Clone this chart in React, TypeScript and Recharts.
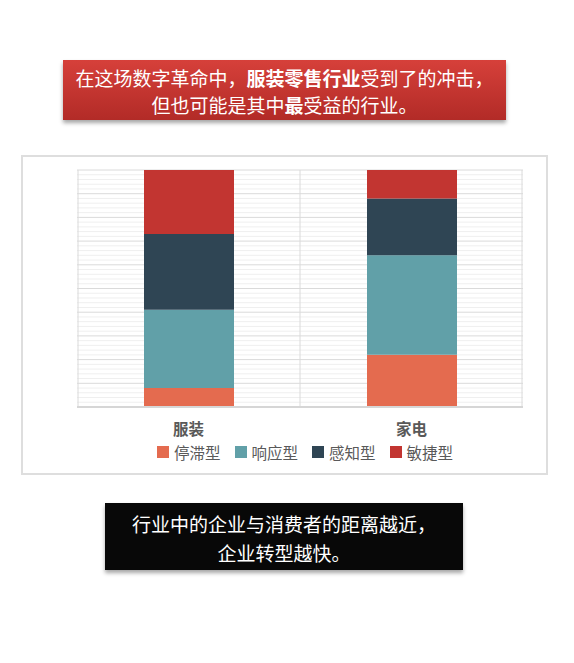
import React from 'react'
import { BarChart, Bar, XAxis, YAxis, CartesianGrid, Legend } from 'recharts'

// 100% stacked shares
const categories = ['服装', '家电']
const stagnant = [8, 22] // 停滞型
const responsive = [33, 42] // 响应型
const perceptive = [32, 24] // 感知型
const agile = [27, 12] // 敏捷型

const seriesNames = ['停滞型', '响应型', '感知型', '敏捷型']
const seriesColors = ['#E46B4F', '#61A0A8', '#2F4554', '#C23531']

const majorTicks = [0, 10, 20, 30, 40, 50, 60, 70, 80, 90, 100]
const minorTicks = [
  2, 4, 6, 8, 12, 14, 16, 18, 22, 24, 26, 28, 32, 34, 36, 38, 42, 44, 46, 48,
  52, 54, 56, 58, 62, 64, 66, 68, 72, 74, 76, 78, 82, 84, 86, 88, 92, 94, 96, 98,
]

const data = categories.map((name, i) => ({
  name,
  停滞型: stagnant[i],
  响应型: responsive[i],
  感知型: perceptive[i],
  敏捷型: agile[i],
}))

const FONT = '"Noto Sans CJK SC", "Microsoft YaHei", sans-serif'

const LegendContent = () => (
  <div style={{ display: 'flex', alignItems: 'center', fontFamily: FONT }}>
    {seriesNames.map((n, i) => (
      <div
        key={n}
        style={{ display: 'flex', alignItems: 'center', marginRight: 14 }}
      >
        <span
          style={{
            display: 'inline-block',
            width: 12,
            height: 12,
            background: seriesColors[i],
            marginRight: 5,
          }}
        />
        <span style={{ fontSize: 15.5, color: '#595959', lineHeight: '18px' }}>
          {n}
        </span>
      </div>
    ))}
  </div>
)

// minor grid lines: y axis scale when available, else the plot box
const minorLines = ({ yAxis, offset }: any) => {
  const s = yAxis && yAxis.scale
  if (typeof s === 'function') return minorTicks.map((t) => s(t))
  if (s && typeof s.map === 'function') return minorTicks.map((t) => s.map(t))
  return minorTicks.map((t) => offset.top + offset.height * (1 - t / 100))
}

const line = { display: 'block', height: 27, lineHeight: '27px' }

export default function App() {
  const W = 527
  const H = 320
  return (
    <div
      style={{
        position: 'absolute',
        left: 0,
        top: 0,
        width: 574,
        height: 663,
        background: '#fff',
        fontFamily: FONT,
      }}
    >
      {/* title banner */}
      <div
        style={{
          position: 'absolute',
          left: 63,
          top: 60,
          width: 443,
          height: 60,
          background: 'linear-gradient(#d6403a, #b22b27)',
          boxShadow: '0 3px 4px rgba(0,0,0,0.35)',
          color: '#fff',
          fontSize: 19,
          textAlign: 'center',
          paddingTop: 4,
          boxSizing: 'border-box',
          whiteSpace: 'nowrap',
        }}
      >
        <span style={line}>
          在这场数字革命中，<b>服装零售行业</b>受到了的冲击，
        </span>
        <span style={line}>
          但也可能是其中<b>最</b>受益的行业。
        </span>
      </div>

      {/* chart frame */}
      <div
        style={{
          position: 'absolute',
          left: 21,
          top: 155,
          width: W,
          height: H,
          border: '2px solid #dedede',
          boxSizing: 'border-box',
        }}
      />
      <div style={{ position: 'absolute', left: 21, top: 155 }}>
        <BarChart
          width={W}
          height={H}
          data={data}
          barSize={90}
          margin={{ top: 15, right: 25, left: 56, bottom: 38 }}
        >
          <CartesianGrid
            stroke="#efefef"
            vertical={false}
            horizontalCoordinatesGenerator={minorLines}
          />
          <CartesianGrid
            stroke="#dadada"
            verticalPoints={[57, 279, 501]}
            strokeWidth={1}
          />
          <XAxis
            dataKey="name"
            height={30}
            tickLine={false}
            axisLine={{ stroke: '#d6d6d6', strokeWidth: 2 }}
            tickMargin={11}
            tick={{
              fill: '#595959',
              fontSize: 15.5,
              fontWeight: 700,
              fontFamily: FONT,
            }}
          />
          <YAxis hide domain={[0, 100]} ticks={majorTicks} />
          <Legend
            verticalAlign="middle"
            align="center"
            content={<LegendContent />}
            wrapperStyle={{ top: 288, left: 136, width: 'auto' }}
          />
          {seriesNames.map((n, i) => (
            <Bar
              key={n}
              dataKey={n}
              stackId="a"
              fill={seriesColors[i]}
              isAnimationActive={false}
            />
          ))}
        </BarChart>
      </div>

      {/* bottom note */}
      <div
        style={{
          position: 'absolute',
          left: 105,
          top: 503,
          width: 358,
          height: 67,
          background: '#080808',
          boxShadow: '0 3px 4px rgba(0,0,0,0.35)',
          color: '#fff',
          fontSize: 19,
          lineHeight: '29px',
          textAlign: 'center',
          paddingTop: 6,
          boxSizing: 'border-box',
          whiteSpace: 'nowrap',
        }}
      >
        行业中的企业与消费者的距离越近，
        <br />
        企业转型越快。
      </div>
    </div>
  )
}
